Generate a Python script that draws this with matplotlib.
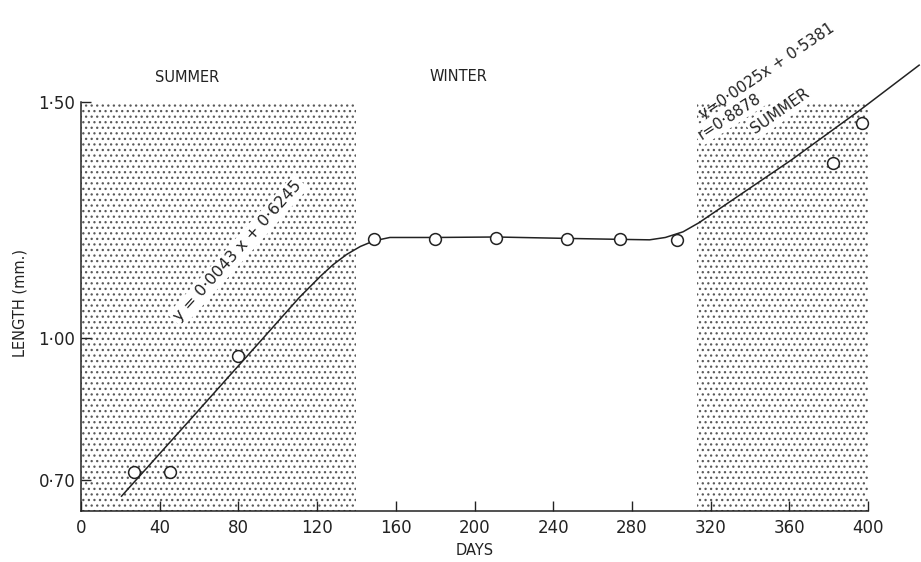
import matplotlib
matplotlib.use("Agg")
import matplotlib.pyplot as plt
from matplotlib.patches import Rectangle

# observed lengths (circles)
days = [27, 45, 80, 149, 180, 211, 247, 274, 303, 382, 397]
length = [0.717, 0.717, 0.963, 1.211, 1.211, 1.213, 1.210, 1.211, 1.209, 1.372, 1.456]

# hand-drawn growth curve
curve_days = [20.6, 60, 89, 111, 122, 128, 135, 142, 149, 157, 180, 211, 247,
              274, 289, 297, 306, 314, 361, 396, 426]
curve_len = [0.666, 0.849, 0.984, 1.087, 1.133, 1.156, 1.178, 1.195, 1.207, 1.214,
             1.214, 1.215, 1.212, 1.210, 1.209, 1.214, 1.226, 1.245, 1.378, 1.484, 1.579]

# summer periods (shaded)
summer_spans = [(0, 140), (313, 400)]
shade_top = 1.50

x_ticks = [0, 40, 80, 120, 160, 200, 240, 280, 320, 360, 400]
y_ticks = [0.70, 1.00, 1.50]
y_labels = ["0·70", "1·00", "1·50"]

y_bottom = 0.6346
y_top = 1.62

plt.rcParams['font.family'] = ['DejaVu Sans']
plt.rcParams['hatch.linewidth'] = 0.9

fig = plt.figure(figsize=(9.21, 5.62), dpi=100)
ax = fig.add_axes([81 / 921, 51 / 562, 787 / 921, 465.2 / 562])

# stippled summer blocks
for x0, x1 in summer_spans:
    ax.add_patch(Rectangle((x0, y_bottom), x1 - x0, shade_top - y_bottom,
                           fill=False, hatch='...', edgecolor='#5a5a5a',
                           linewidth=0, zorder=0))

ax.plot(curve_days, curve_len, color='#222222', linewidth=1.1, clip_on=False, zorder=2)
ax.plot(days, length, linestyle='none', marker='o', markersize=8.5,
        markerfacecolor='white', markeredgecolor='#222222', markeredgewidth=1.1,
        zorder=3, clip_on=False)

ax.set_xlim(0, 400)
ax.set_ylim(y_bottom, y_top)
ax.spines['top'].set_visible(False)
ax.spines['right'].set_visible(False)
ax.spines['left'].set_bounds(y_bottom, shade_top)
ax.spines['bottom'].set_bounds(0, 400)
for s in ['left', 'bottom']:
    ax.spines[s].set_linewidth(1.1)
    ax.spines[s].set_color('#222222')

ax.set_xticks(x_ticks)
ax.set_yticks(y_ticks)
ax.set_yticklabels(y_labels)
ax.tick_params(direction='in', length=7, width=1.0, colors='#222222',
               labelsize=12, pad=6)
ax.tick_params(axis='y', pad=4)

ax.set_xlabel("DAYS", fontsize=10.5, labelpad=4, color='#222222')
ax.set_ylabel("LENGTH (mm.)", fontsize=10.5, color='#222222')
ax.yaxis.set_label_coords(-0.068, 0.447)

# season labels
ax.text(53.9, 1.552, "SUMMER", fontsize=10.5, ha='center', va='center', color='#222222')
ax.text(191.6, 1.555, "WINTER", fontsize=10.5, ha='center', va='center', color='#222222')

box = dict(facecolor='white', edgecolor='none', pad=2)
ax.text(79.8, 1.185, "y = 0·0043 x + 0·6245", fontsize=11.5, rotation=48,
        rotation_mode='anchor', ha='center', va='center', bbox=box, color='#222222')
ax.text(348.5, 1.566, "y=0·0025x + 0·5381", fontsize=11, rotation=34,
        rotation_mode='anchor', ha='center', va='center', color='#222222')
ax.text(329.5, 1.470, "r=0·8878", fontsize=11, rotation=33,
        rotation_mode='anchor', ha='center', va='center', bbox=box, color='#222222')
ax.text(355.5, 1.482, "SUMMER", fontsize=11, rotation=35,
        rotation_mode='anchor', ha='center', va='center', bbox=box, color='#222222')

fig.savefig("out.png", dpi=100)
